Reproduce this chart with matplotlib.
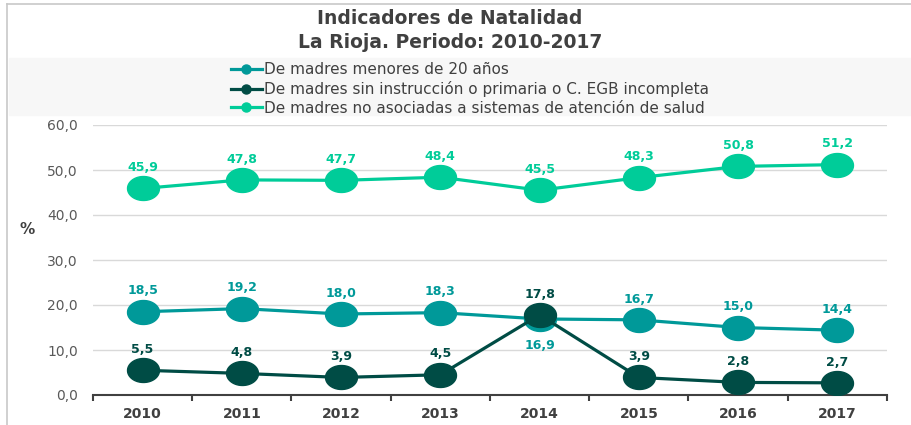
import numpy as np
import matplotlib.pyplot as plt
from matplotlib.path import Path
from matplotlib.patches import Rectangle
from matplotlib.lines import Line2D

years = ["2010", "2011", "2012", "2013", "2014", "2015", "2016", "2017"]
menores_20 = [18.5, 19.2, 18.0, 18.3, 16.9, 16.7, 15.0, 14.4]
sin_instruccion = [5.5, 4.8, 3.9, 4.5, 17.8, 3.9, 2.8, 2.7]
no_asociadas = [45.9, 47.8, 47.7, 48.4, 45.5, 48.3, 50.8, 51.2]

nombres = ["De madres menores de 20 años",
           "De madres sin instrucción o primaria o C. EGB incompleta",
           "De madres no asociadas a sistemas de atención de salud"]
colores = ["#009999", "#004C45", "#00CC99"]

# elipse como marcador (el gráfico original está estirado en horizontal)
t = np.linspace(0, 2 * np.pi, 60)
elipse = Path(np.column_stack([np.cos(t), 0.75 * np.sin(t)]), closed=True)

fig = plt.figure(figsize=(9.12, 4.25), dpi=100)

# marco y banda de la leyenda
fig.add_artist(Line2D([7 / 912, 7 / 912], [0, 1 - 4 / 425], color="#c8c8c8", lw=1.2))
fig.add_artist(Line2D([7 / 912, 1], [1 - 4 / 425, 1 - 4 / 425], color="#c8c8c8", lw=1.2))
fig.add_artist(Rectangle((9 / 912, 1 - 115 / 425), 1, 57 / 425,
                         transform=fig.transFigure, color="#f7f7f7", zorder=0))

fig.text(450 / 912, 1 - 18 / 425, "Indicadores de Natalidad", ha="center", va="center",
         fontsize=13.5, fontweight="bold", color="#404040")
fig.text(450 / 912, 1 - 42 / 425, "La Rioja. Periodo: 2010-2017", ha="center", va="center",
         fontsize=13.5, fontweight="bold", color="#404040")

ax = fig.add_axes([93 / 912, 1 - 395 / 425, 794 / 912, 270 / 425])
x = np.arange(len(years))

series = [menores_20, sin_instruccion, no_asociadas]
for vals, col, nom in zip(series, colores, nombres):
    ax.plot(x, vals, color=col, lw=2.3, marker=elipse, markersize=23, label=nom, zorder=3)

# etiquetas de datos
for i, v in enumerate(no_asociadas):
    ax.annotate(f"{v:.1f}".replace(".", ","), (i, v), xytext=(0, 15), textcoords="offset points",
                ha="center", va="center", fontsize=9, fontweight="bold", color=colores[2])
for i, v in enumerate(menores_20):
    dy = -19 if years[i] == "2014" else 15
    ax.annotate(f"{v:.1f}".replace(".", ","), (i, v), xytext=(0, dy), textcoords="offset points",
                ha="center", va="center", fontsize=9, fontweight="bold", color=colores[0])
for i, v in enumerate(sin_instruccion):
    ax.annotate(f"{v:.1f}".replace(".", ","), (i, v), xytext=(0, 15), textcoords="offset points",
                ha="center", va="center", fontsize=9, fontweight="bold", color=colores[1])

ax.set_xlim(-0.5, len(years) - 0.5)
ax.set_ylim(0, 60)
ax.set_yticks(np.arange(0, 61, 10))
ax.set_yticklabels([f"{v:.1f}".replace(".", ",") for v in np.arange(0, 61, 10)],
                   fontsize=10, color="#595959")
ax.set_xticks(x)
ax.set_xticklabels(years, fontsize=10, fontweight="bold", color="#404040")
ax.set_xticks(np.arange(-0.5, len(years)), minor=True)
ax.tick_params(axis="x", which="major", length=0, pad=9)
ax.tick_params(axis="x", which="minor", length=4, width=1.5, color="#404040", direction="out")
ax.tick_params(axis="y", length=0, pad=11)
ax.grid(axis="y", color="#d9d9d9", lw=1)
ax.set_axisbelow(True)
for s in ["top", "right", "left"]:
    ax.spines[s].set_visible(False)
ax.spines["bottom"].set_color("#404040")
ax.spines["bottom"].set_linewidth(1.5)
ax.set_facecolor("none")

fig.text(27 / 912, 1 - 230 / 425, "%", ha="center", va="center", fontsize=11,
         fontweight="bold", color="#404040")

handles = [Line2D([], [], color=c, lw=2.3, marker="o", markersize=6.5) for c in colores]
fig.legend(handles, nombres, loc="upper left", bbox_to_anchor=(222 / 912, 1 - 53 / 425),
           frameon=False, handlelength=2.0, handletextpad=0.15,
           labelspacing=0.25, borderpad=0.1,
           prop={"size": 11})
for txt in fig.legends[0].get_texts():
    txt.set_color("#404040")

fig.savefig("out.png", dpi=100)
